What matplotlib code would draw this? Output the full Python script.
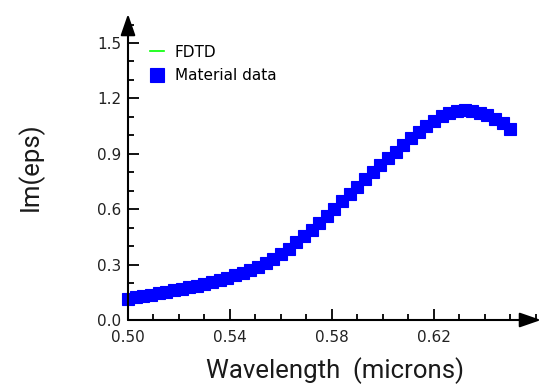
import numpy as np
import matplotlib
matplotlib.use('Agg')
import matplotlib.pyplot as plt
from matplotlib.ticker import MultipleLocator, FormatStrFormatter

# material data
wavelength = np.round(np.arange(0.500, 0.6505, 0.003), 3)
im_eps = [0.115, 0.122, 0.130, 0.137, 0.144, 0.152, 0.160, 0.168, 0.177, 0.186,
          0.195, 0.205, 0.216, 0.228, 0.241, 0.255, 0.270, 0.287, 0.310, 0.333,
          0.358, 0.385, 0.420, 0.455, 0.490, 0.527, 0.565, 0.603, 0.642, 0.682,
          0.722, 0.762, 0.800, 0.838, 0.875, 0.912, 0.948, 0.985, 1.020, 1.052,
          1.080, 1.103, 1.120, 1.131, 1.135, 1.132, 1.122, 1.108, 1.090, 1.065,
          1.035]

x_ticks = [0.50, 0.54, 0.58, 0.62]
y_ticks = [0.0, 0.3, 0.6, 0.9, 1.2, 1.5]

plt.rcParams['font.family'] = ['DejaVu Sans']

fig = plt.figure(figsize=(5.45, 3.9), dpi=100)
ax = fig.add_axes([128 / 545, 70 / 390, 413 / 545, 306 / 390])

ax.plot([], [], color='#00ff00', lw=1.2, label='FDTD')
ax.plot(wavelength, im_eps, 's', color='#0000ff', ms=9.3, mec='#0000ff',
        mew=0.8, label='Material data', clip_on=False, antialiased=False)

ax.set_xlim(0.5, 0.662)
ax.set_ylim(0.0, 1.657)
ax.set_xticks(x_ticks)
ax.set_yticks(y_ticks)
ax.xaxis.set_minor_locator(MultipleLocator(0.01))
ax.yaxis.set_minor_locator(MultipleLocator(0.1))
ax.xaxis.set_major_formatter(FormatStrFormatter('%.2f'))
ax.yaxis.set_major_formatter(FormatStrFormatter('%.1f'))
ax.tick_params(which='major', direction='in', length=8, width=1.3,
               labelsize=11, color='black', labelcolor='#222222')
ax.tick_params(axis='x', which='major', pad=7)
ax.tick_params(axis='y', which='major', pad=5)
ax.tick_params(which='minor', direction='in', length=4, width=1.3, color='black')
ax.tick_params(top=False, right=False, which='both')

for side in ['top', 'right', 'left', 'bottom']:
    ax.spines[side].set_visible(False)

arrow = dict(arrowstyle='-|>,head_length=1.3,head_width=0.45', color='black',
             lw=1.5, shrinkA=0, shrinkB=0)
ax.annotate('', xy=(1.0, 0.0), xytext=(0.0, 0.0), xycoords='axes fraction',
            arrowprops=arrow, annotation_clip=False)
ax.annotate('', xy=(0.0, 1.0), xytext=(0.0, 0.0), xycoords='axes fraction',
            arrowprops=arrow, annotation_clip=False)

label_font = dict(family=['Roboto', 'DejaVu Sans'], weight='normal', size=18.5,
                  color='#1a1a1a')
ax.set_xlabel('Wavelength  (microns)', labelpad=9, **label_font)
ax.set_ylabel('Im(eps)', labelpad=38, **label_font)

leg = ax.legend(loc='upper left', bbox_to_anchor=(0.035, 0.925), frameon=False,
                fontsize=11, handlelength=0.9, handletextpad=0.7,
                labelspacing=0.55, borderpad=0, markerscale=1.1)

fig.savefig('out.png', dpi=100)
